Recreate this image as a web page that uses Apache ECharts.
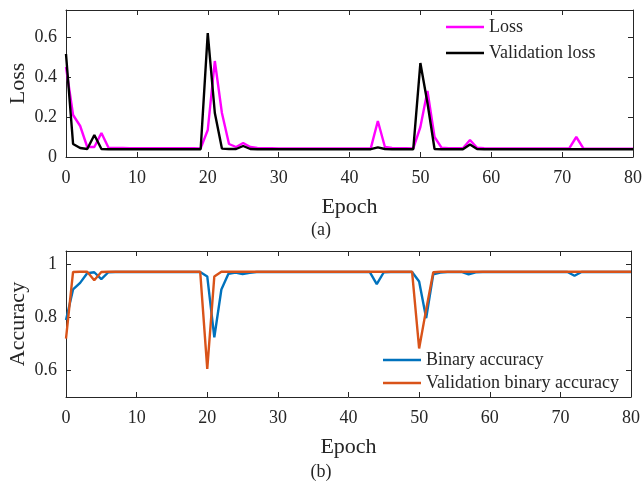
<!DOCTYPE html>
<html>
<head>
<meta charset="utf-8">
<script src="https://cdn.jsdelivr.net/npm/echarts@6/dist/echarts.min.js"></script>
<style>
  html, body { margin: 0; padding: 0; background: #fff; }
  #chart { width: 642px; height: 481px; }
</style>
</head>
<body>
<div id="chart"></div>
<script>
// Training history: epochs 0..80
const epochs = Array.from({ length: 81 }, (_, i) => i);

const loss = [
  0.45, 0.21, 0.155, 0.05, 0.05, 0.12, 0.046, 0.045, 0.045, 0.044,
  0.044, 0.044, 0.044, 0.044, 0.044, 0.044, 0.044, 0.044, 0.044, 0.043,
  0.135, 0.48, 0.22, 0.065, 0.05, 0.07, 0.05, 0.045, 0.044, 0.044,
  0.043, 0.043, 0.043, 0.043, 0.043, 0.043, 0.043, 0.043, 0.043, 0.043,
  0.043, 0.043, 0.043, 0.043, 0.18, 0.05, 0.045, 0.044, 0.044, 0.043,
  0.15, 0.33, 0.10, 0.046, 0.044, 0.044, 0.044, 0.085, 0.046, 0.044,
  0.043, 0.043, 0.043, 0.043, 0.043, 0.043, 0.043, 0.043, 0.043, 0.043,
  0.043, 0.043, 0.10, 0.043, 0.042, 0.042, 0.042, 0.042, 0.042, 0.042,
  0.042
];

const valLoss = [
  0.515, 0.065, 0.045, 0.04, 0.11, 0.04, 0.039, 0.039, 0.039, 0.039,
  0.039, 0.039, 0.039, 0.039, 0.039, 0.039, 0.039, 0.039, 0.039, 0.039,
  0.62, 0.22, 0.042, 0.04, 0.04, 0.055, 0.04, 0.039, 0.039, 0.039,
  0.039, 0.039, 0.039, 0.039, 0.039, 0.039, 0.039, 0.039, 0.039, 0.039,
  0.039, 0.039, 0.039, 0.039, 0.048, 0.04, 0.039, 0.039, 0.039, 0.039,
  0.47, 0.27, 0.04, 0.039, 0.039, 0.039, 0.039, 0.063, 0.04, 0.039,
  0.039, 0.039, 0.039, 0.039, 0.039, 0.039, 0.039, 0.039, 0.039, 0.039,
  0.039, 0.039, 0.039, 0.039, 0.039, 0.039, 0.039, 0.039, 0.039, 0.039,
  0.039
];

const binAcc = [
  0.79, 0.905, 0.93, 0.966, 0.97, 0.944, 0.97, 0.971, 0.971, 0.971,
  0.971, 0.971, 0.971, 0.971, 0.971, 0.971, 0.971, 0.971, 0.971, 0.971,
  0.954, 0.725, 0.905, 0.964, 0.969, 0.963, 0.968, 0.971, 0.971, 0.971,
  0.971, 0.971, 0.971, 0.971, 0.971, 0.971, 0.971, 0.971, 0.971, 0.971,
  0.971, 0.971, 0.971, 0.971, 0.925, 0.97, 0.971, 0.971, 0.971, 0.971,
  0.935, 0.797, 0.962, 0.969, 0.971, 0.971, 0.971, 0.962, 0.97, 0.971,
  0.971, 0.971, 0.971, 0.971, 0.971, 0.971, 0.971, 0.971, 0.971, 0.971,
  0.971, 0.971, 0.957, 0.971, 0.971, 0.971, 0.971, 0.971, 0.971, 0.971,
  0.971
];

const valBinAcc = [
  0.72, 0.971, 0.972, 0.972, 0.94, 0.971, 0.972, 0.972, 0.972, 0.972,
  0.972, 0.972, 0.972, 0.972, 0.972, 0.972, 0.972, 0.972, 0.972, 0.972,
  0.606, 0.954, 0.972, 0.972, 0.972, 0.972, 0.972, 0.972, 0.972, 0.972,
  0.972, 0.972, 0.972, 0.972, 0.972, 0.972, 0.972, 0.972, 0.972, 0.972,
  0.972, 0.972, 0.972, 0.972, 0.972, 0.972, 0.972, 0.972, 0.972, 0.972,
  0.683, 0.83, 0.97, 0.972, 0.972, 0.972, 0.972, 0.972, 0.972, 0.972,
  0.972, 0.972, 0.972, 0.972, 0.972, 0.972, 0.972, 0.972, 0.972, 0.972,
  0.972, 0.972, 0.972, 0.972, 0.972, 0.972, 0.972, 0.972, 0.972, 0.972,
  0.972
];

const xTicks = [0, 10, 20, 30, 40, 50, 60, 70, 80];
const lossTicks = [0, 0.2, 0.4, 0.6];
const accTicks = [0.6, 0.8, 1];

const FONT = '"Liberation Serif", "DejaVu Serif", serif';
const INK = '#262626';
const AXIS = '#262626';

function pairs(ys) { return ys.map((y, i) => [epochs[i], y]); }

function xAxisCfg(gridIndex, bottom) {
  return {
    type: 'value', gridIndex, min: 0, max: 80,
    position: bottom ? 'bottom' : 'top',
    name: bottom ? 'Epoch' : '',
    nameLocation: 'middle', nameGap: 39,
    nameTextStyle: { fontFamily: FONT, fontSize: 22, color: INK },
    axisLine: { show: true, onZero: false, lineStyle: { color: AXIS, width: 1 } },
    axisTick: { show: true, inside: true, length: 5, customValues: xTicks, lineStyle: { color: AXIS } },
    axisLabel: { show: bottom, customValues: xTicks, margin: 12, fontFamily: FONT, fontSize: 18, color: INK },
    splitLine: { show: false }
  };
}

function yAxisCfg(gridIndex, left, min, max, ticks, name) {
  return {
    type: 'value', gridIndex, min, max,
    position: left ? 'left' : 'right',
    name: left ? name : '',
    nameLocation: 'middle', nameRotate: 90, nameGap: 37, nameMoveOverlap: false,
    nameTextStyle: { fontFamily: FONT, fontSize: 22, color: INK },
    axisLine: { show: true, onZero: false, lineStyle: { color: AXIS, width: 1 } },
    axisTick: { show: true, inside: true, length: 5, customValues: ticks, lineStyle: { color: AXIS } },
    axisLabel: { show: left, customValues: ticks, margin: 9, fontFamily: FONT, fontSize: 18, color: INK },
    splitLine: { show: false }
  };
}

function lineSeries(name, data, color, xi, yi) {
  return {
    name, type: 'line', data: pairs(data), xAxisIndex: xi, yAxisIndex: yi,
    symbol: 'none', showSymbol: false, animation: false,
    lineStyle: { color, width: 2.4 }, itemStyle: { color }
  };
}

const legendBase = {
  orient: 'vertical', padding: 0, icon: 'rect',
  itemWidth: 38, itemHeight: 2.6,
  textStyle: { fontFamily: FONT, fontSize: 18, color: INK, lineHeight: 18, padding: [0, 0, 0, 0] }
};

const chart = echarts.init(document.getElementById('chart'), null, { renderer: 'canvas' });
chart.setOption({
  backgroundColor: '#fff',
  animation: false,
  grid: [
    { left: 66, right: 9, top: 10, height: 147, outerBoundsMode: 'none', containLabel: false },
    { left: 66, right: 11, top: 251, height: 146, outerBoundsMode: 'none', containLabel: false }
  ],
  xAxis: [xAxisCfg(0, true), xAxisCfg(0, false), xAxisCfg(1, true), xAxisCfg(1, false)],
  yAxis: [
    yAxisCfg(0, true, 0, 0.735, lossTicks, 'Loss'),
    yAxisCfg(0, false, 0, 0.735, lossTicks, ''),
    yAxisCfg(1, true, 0.5, 1.05, accTicks, 'Accuracy'),
    yAxisCfg(1, false, 0.5, 1.05, accTicks, '')
  ],
  legend: [
    Object.assign({}, legendBase, {
      data: ['Loss', 'Validation loss'],
      left: 446, top: 18, itemGap: 8
    }),
    Object.assign({}, legendBase, {
      data: ['Binary accuracy', 'Validation binary accuracy'],
      left: 383, top: 351, itemGap: 5
    })
  ],
  graphic: [
    { type: 'text', left: 'center', top: 221, style: { text: '(a)', fontFamily: FONT, fontSize: 18, fill: INK } },
    { type: 'text', left: 'center', top: 463, style: { text: '(b)', fontFamily: FONT, fontSize: 18, fill: INK } }
  ],
  series: [
    lineSeries('Loss', loss, '#FF00FF', 0, 0),
    lineSeries('Validation loss', valLoss, '#000000', 0, 0),
    lineSeries('Binary accuracy', binAcc, '#0072BD', 2, 2),
    lineSeries('Validation binary accuracy', valBinAcc, '#D95319', 2, 2)
  ]
});
</script>
</body>
</html>
